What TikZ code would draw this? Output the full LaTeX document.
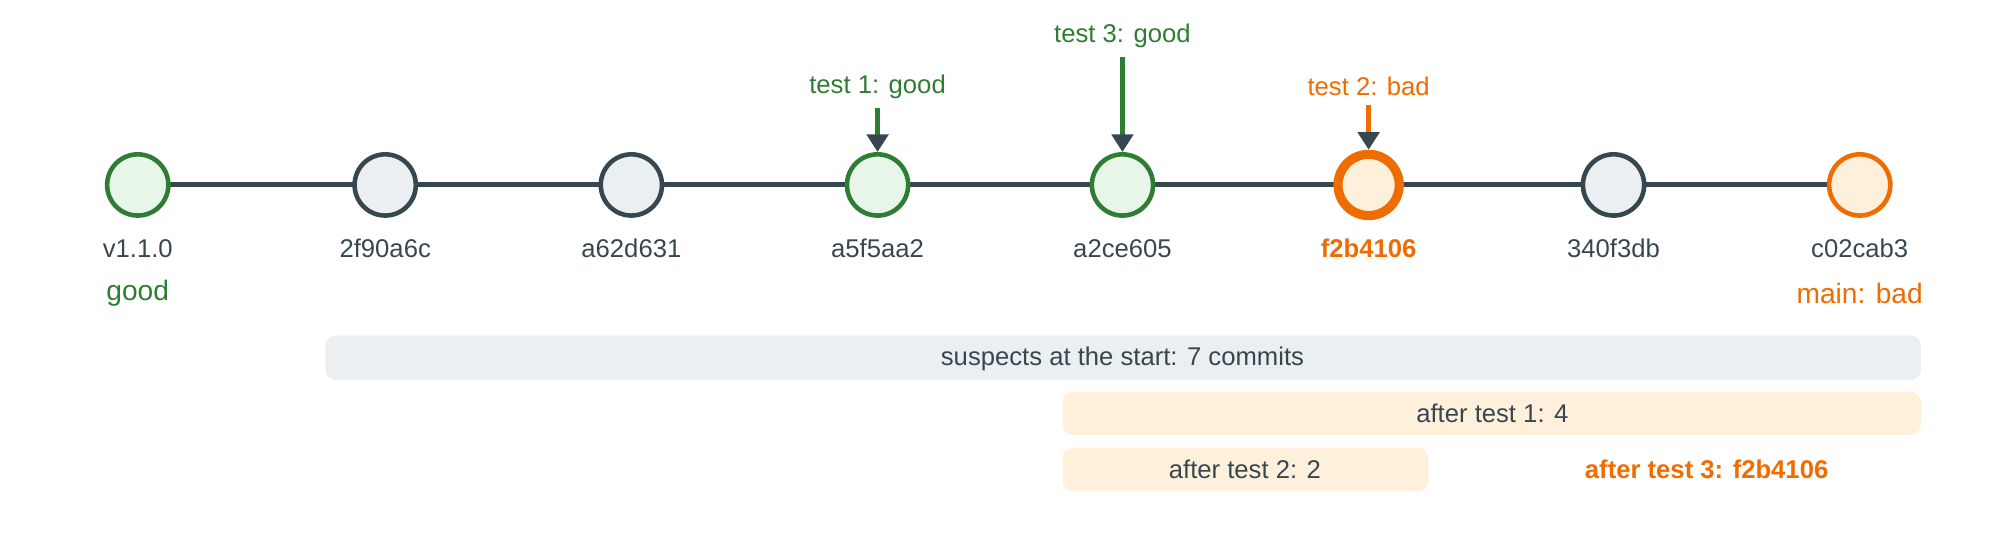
\documentclass[tikz,border=0pt]{standalone}
\usepackage{fontspec}
\setmainfont{Liberation Sans}
\usetikzlibrary{arrows.meta}
\definecolor{dark}{HTML}{37474F}
\definecolor{grn}{HTML}{2E7D32}
\definecolor{grnfill}{HTML}{E8F5E9}
\definecolor{org}{HTML}{EF6C00}
\definecolor{orgfill}{HTML}{FFF0DC}
\definecolor{gryfill}{HTML}{ECEFF1}
\tikzset{
  commit/.style={circle, minimum size=48*0.012755cm, inner sep=0pt, line width=1.3pt},
  good/.style={commit, draw=grn, fill=grnfill},
  plain/.style={commit, draw=dark, fill=gryfill},
  bad/.style={commit, draw=org, fill=orgfill},
  lbl/.style={text=dark},
  bar/.style={rounded corners=3pt, inner sep=0pt},
  probe/.style={line width=1.4pt, -{Triangle[length=5pt,width=6pt,color=dark]}},
}
\begin{document}
\fontsize{7.3}{9}\selectfont
\begin{tikzpicture}[x=0.012755cm, y=-0.012755cm]
\useasboundingbox (0,0) rectangle (1568,422);
% history line
\draw[dark, line width=1.4pt] (108,145) -- (1458,145);
\node[good] (v110) at (108,145) {};
\node[plain] (c2f9) at (302,145) {};
\node[plain] (ca62) at (495,145) {};
\node[good] (ca5f) at (688,145) {};
\node[good] (ca2c) at (880,145) {};
\node[bad, line width=2.6pt] (cf2b) at (1073,145) {};
\node[plain] (c340) at (1265,145) {};
\node[bad] (cc02) at (1458,145) {};
% names
\node[lbl] at (108,195) {v1.1.0};
\node[lbl] at (302,195) {2f90a6c};
\node[lbl] at (495,195) {a62d631};
\node[lbl] at (688,195) {a5f5aa2};
\node[lbl] at (880,195) {a2ce605};
\node[text=org, font=\bfseries] at (1073,195) {f2b4106};
\node[lbl] at (1265,195) {340f3db};
\node[lbl] at (1458,195) {c02cab3};
\node[text=grn, font=\footnotesize] at (108,230) {good};
\node[text=org, font=\footnotesize] at (1458,230) {main: bad};
% tests
\node[text=grn] (t1) at (688,68) {test 1: good};
\node[text=grn] (t3) at (880,28) {test 3: good};
\node[text=org] (t2) at (1073,68) {test 2: bad};
\draw[probe, grn] (t1.south) -- (ca5f.north);
\draw[probe, grn] (t3.south) -- (ca2c.north);
\draw[probe, org] (t2.south) -- (cf2b.north);
% suspects
\fill[gryfill, bar] (255,263) rectangle (1506,298);
\node[lbl] at (880,281) {suspects at the start: 7 commits};
\fill[orgfill, bar] (833,307) rectangle (1506,341);
\node[lbl] at (1170,324) {after test 1: 4};
\fill[orgfill, bar] (833,351) rectangle (1120,385);
\node[lbl] at (976,368) {after test 2: 2};
\node[text=org, font=\bfseries] at (1338,368) {after test 3: f2b4106};
\end{tikzpicture}
\end{document}
